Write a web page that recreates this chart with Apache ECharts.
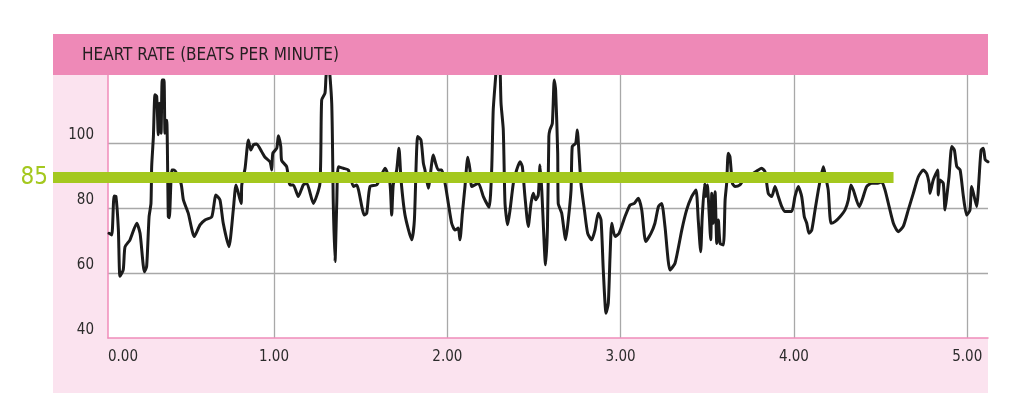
<!DOCTYPE html>
<html>
<head>
<meta charset="utf-8">
<script src="https://cdn.jsdelivr.net/npm/echarts@6/dist/echarts.min.js"></script>
<style>
html,body{margin:0;padding:0;background:#fff;}
#chart{width:1024px;height:418px;}
</style>
</head>
<body>
<div id="chart"></div>
<script>
// Time in minutes
const times = [
0.048,0.064,0.077,0.088,0.102,0.111,0.130,0.140,0.169,0.208,
0.227,0.252,0.265,0.279,0.290,0.294,0.304,0.313,0.323,0.332,
0.338,0.348,0.355,0.365,0.371,0.381,0.390,0.396,0.410,0.423,
0.463,0.477,0.505,0.540,0.573,0.602,0.641,0.665,0.688,0.707,
0.740,0.765,0.781,0.810,0.814,0.833,0.852,0.866,0.881,0.900,
0.929,0.948,0.977,0.987,0.993,1.016,1.025,1.039,1.044,1.073,
1.092,1.111,1.140,1.169,1.189,1.227,1.265,1.275,1.294,1.300,
1.312,1.333,1.342,1.352,1.362,1.371,1.400,1.429,1.458,1.477,
1.521,1.535,1.554,1.593,1.641,1.669,1.679,1.688,1.708,1.721,
1.733,1.756,1.795,1.810,1.829,1.848,1.862,1.871,1.890,1.919,
1.933,1.948,1.968,1.987,2.006,2.025,2.044,2.063,2.073,2.087,
2.102,2.118,2.131,2.141,2.179,2.208,2.241,2.256,2.265,2.279,
2.287,2.301,2.310,2.323,2.333,2.348,2.362,2.381,2.400,2.420,
2.433,2.448,2.467,2.483,2.496,2.510,2.525,2.535,2.545,2.567,
2.578,2.586,2.592,2.606,2.617,2.625,2.637,2.640,2.660,2.683,
2.698,2.714,2.721,2.741,2.750,2.760,2.771,2.791,2.810,2.833,
2.852,2.871,2.887,2.900,2.916,2.929,2.939,2.949,2.968,2.991,
3.025,3.054,3.079,3.102,3.122,3.145,3.175,3.198,3.218,3.237,
3.256,3.285,3.314,3.353,3.381,3.410,3.435,3.448,3.462,3.471,
3.485,3.491,3.500,3.520,3.526,3.535,3.545,3.555,3.564,3.574,
3.593,3.603,3.612,3.621,3.631,3.645,3.660,3.689,3.708,3.747,
3.795,3.814,3.833,3.852,3.872,3.891,3.910,3.930,3.949,3.987,
4.006,4.025,4.045,4.060,4.074,4.087,4.103,4.122,4.141,4.156,
4.170,4.183,4.198,4.214,4.237,4.266,4.295,4.314,4.329,4.343,
4.377,4.397,4.420,4.449,4.484,4.507,4.526,4.545,4.574,4.602,
4.631,4.660,4.689,4.718,4.747,4.766,4.780,4.785,4.804,4.830,
4.833,4.843,4.862,4.872,4.882,4.895,4.911,4.926,4.940,4.959,
4.978,4.997,5.016,5.026,5.055,5.064,5.080,5.093,5.104,5.120
];
// Heart rate, beats per minute
const bpm = [
72.2,71.7,83.7,83.5,73.2,59.0,61.0,68.0,70.2,75.3,
72.2,60.4,62.0,77.3,81.4,92.7,102.0,114.8,114.3,102.5,
112.2,103.0,119.4,119.4,103.0,107.0,77.3,77.0,91.7,91.7,
87.6,82.5,78.4,71.2,74.8,76.3,77.3,84.0,82.5,75.3,
68.1,79.4,87.1,81.4,87.1,92.2,100.9,97.8,99.4,99.7,
97.3,95.6,94.2,91.7,96.8,98.4,102.2,98.9,94.6,92.7,
87.1,87.1,83.5,87.1,87.6,81.4,87.6,113.2,115.3,120.4,
126.0,112.2,81.4,63.5,81.4,92.7,92.2,91.7,86.6,87.1,
77.8,78.4,86.6,87.1,92.2,87.6,77.8,87.1,91.7,98.4,
88.6,77.8,70.2,76.3,102.0,100.9,93.7,91.7,86.1,96.3,
93.7,91.7,91.7,87.6,81.4,75.3,73.2,73.8,70.2,78.4,
86.6,95.6,91.7,86.6,87.6,83.5,80.2,91.7,110.2,120.4,
126.0,126.0,112.2,104.0,81.4,74.8,79.4,87.6,91.7,94.2,
92.7,83.5,74.3,81.4,84.5,82.5,84.0,93.2,85.5,62.5,
74.3,102.0,104.0,106.0,119.4,116.3,96.8,81.4,78.4,70.2,
76.3,85.5,98.9,99.9,104.0,96.8,87.6,79.4,72.2,70.2,
73.2,78.4,76.3,60.9,47.6,50.7,65.1,75.3,71.2,72.2,
77.3,80.9,81.4,83.0,79.4,69.7,72.2,75.3,80.4,81.4,
74.3,60.9,63.0,73.2,79.4,83.5,85.5,76.3,66.5,77.3,
87.6,83.5,87.1,70.2,84.5,75.3,85.0,69.1,76.3,69.1,
68.6,82.5,87.6,96.8,95.8,87.6,86.6,87.1,88.6,90.0,
91.7,92.2,91.2,84.5,83.5,86.6,83.5,80.4,78.9,78.9,
83.5,86.6,83.5,77.3,75.3,72.2,73.2,79.4,85.5,89.6,
92.7,89.6,85.5,75.3,75.8,77.3,79.4,82.5,87.1,85.5,
80.4,83.0,86.6,87.6,87.6,88.0,85.5,81.4,75.3,72.7,
74.3,79.4,84.5,89.6,91.7,90.6,87.6,84.5,88.6,91.7,
84.0,88.6,87.6,79.4,83.5,89.6,98.9,97.8,92.7,91.7,
83.5,77.8,79.4,86.6,80.4,85.5,97.8,98.4,94.8,94.2
];
// Reference band (labelled 85)
const refLabel = '85';
const refLevel = [89.4, 89.4];
const refTimes = [-0.275, 4.575];

const titleText = 'HEART RATE (BEATS PER MINUTE)';
const yMin = 40, yMax = 120.9, yStep = 20;
const xMin = 0.042, xMax = 5.12;

const FONT = '"Liberation Sans Narrow","DejaVu Sans Condensed","Roboto",sans-serif';
const PINK_BAR = '#ee89b7';
const PINK_BG = '#fbe3ef';
const PINK_LINE = '#f08dba';
const GREEN = '#a4c81e';
const GRID = '#a8a8a8';

const hrData = times.map((t, i) => [t, bpm[i]]);
const refData = refTimes.map((t, i) => i === 0
  ? { value: [t, refLevel[i]], label: { show: true } }
  : [t, refLevel[i]]);

const chart = echarts.init(document.getElementById('chart'), null, { renderer: 'canvas' });
chart.setOption({
  animation: false,
  backgroundColor: '#ffffff',
  title: {
    text: titleText,
    left: 82,
    top: 47,
    padding: 0,
    z: 20,
    textStyle: { fontFamily: FONT, fontSize: 17, fontWeight: 'normal', color: '#231f20' }
  },
  graphic: [
    { type: 'rect', z: -20, silent: true, shape: { x: 53, y: 34, width: 935, height: 359 }, style: { fill: PINK_BG } },
    { type: 'rect', z: -19, silent: true, shape: { x: 108, y: 75, width: 880, height: 263 }, style: { fill: '#ffffff' } },
    { type: 'rect', z: 15, silent: true, shape: { x: 53, y: 34, width: 935, height: 41 }, style: { fill: PINK_BAR } }
  ],
  grid: [
    { left: 108, right: 36, top: 75, bottom: 80 },
    { left: 53, right: 36, top: 75, bottom: 80 }
  ],
  xAxis: [
    {
      type: 'value', gridIndex: 0, min: xMin, max: xMax,
      axisLine: { show: true, lineStyle: { color: PINK_LINE, width: 1.5 } },
      axisTick: { show: false },
      splitLine: { show: true, lineStyle: { color: ['transparent', GRID, GRID, GRID, GRID, GRID, 'transparent'], width: 1.3 } },
      axisLabel: {
        show: true, showMinLabel: true, showMaxLabel: false, alignMinLabel: 'left',
        margin: 12, fontFamily: FONT, fontSize: 15, color: '#2b2b2b',
        formatter: v => (v < 0.5 ? 0 : v).toFixed(2)
      }
    },
    { type: 'value', gridIndex: 1, min: refTimes[0], max: xMax, show: false }
  ],
  yAxis: [
    {
      type: 'value', gridIndex: 0, min: yMin, max: yMax, interval: yStep,
      axisLine: { show: true, lineStyle: { color: PINK_LINE, width: 1.5 } },
      axisTick: { show: false },
      splitLine: { show: true, lineStyle: { color: ['transparent', GRID, GRID, GRID, 'transparent'], width: 1.3 } },
      axisLabel: {
        showMaxLabel: false, margin: 14, verticalAlign: 'bottom',
        fontFamily: FONT, fontSize: 15, color: '#2b2b2b'
      }
    },
    { type: 'value', gridIndex: 1, min: yMin, max: yMax, show: false }
  ],
  series: [
    {
      type: 'line', xAxisIndex: 0, yAxisIndex: 0, data: hrData,
      clip: false, showSymbol: false, symbol: 'none', smooth: 0.2,
      lineStyle: { color: '#1b1b1b', width: 3, join: 'round', cap: 'round' },
      z: 2
    },
    {
      type: 'line', xAxisIndex: 1, yAxisIndex: 1, data: refData,
      symbol: 'circle', symbolSize: 0, showSymbol: true,
      lineStyle: { color: GREEN, width: 11, cap: 'butt' },
      itemStyle: { color: GREEN },
      label: {
        show: false, position: 'left', distance: 5, formatter: refLabel,
        fontFamily: FONT, fontSize: 24, color: GREEN
      },
      z: 3
    }
  ]
});
</script>
</body>
</html>
